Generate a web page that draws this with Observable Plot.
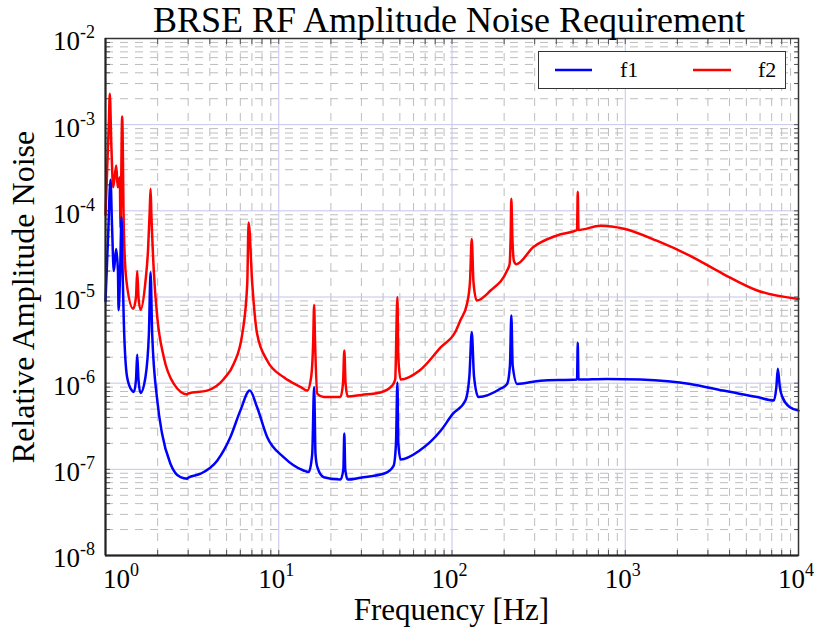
<!DOCTYPE html>
<html>
<head>
<meta charset="utf-8">
<script src="https://cdn.jsdelivr.net/npm/d3@7"></script>
<script src="https://cdn.jsdelivr.net/npm/@observablehq/plot@0.6"></script>
<style>
  html, body { margin: 0; padding: 0; background: #fff; }
  #wrap { position: relative; width: 818px; height: 627px; overflow: hidden; font-family: "Liberation Serif", "DejaVu Serif", serif; color: #000; }
  #chart { position: absolute; left: 0; top: 0; }
  #wrap .lbl, #wrap .lbl span { font-family: "Liberation Serif", "DejaVu Serif", serif !important; }
  .lbl { position: absolute; white-space: nowrap; color: #000; }
  .tick { font-size: 27px; line-height: 27px; }
  .tick .sup { font-size: 18px; vertical-align: 12px; line-height: 0; }
  #legend { position: absolute; left: 538px; top: 51px; width: 246px; height: 36px; border: 1.5px solid #333; background: #fff; }
  #legend svg { position: absolute; left: 0; top: 0; }
  #legend .lbl { font-size: 22px; line-height: 22px; }
</style>
</head>
<body>
<div id="wrap">
  <div id="chart"></div>
  <div id="legend"></div>
</div>
<script>
// ---- data ----
const seriesNames = ["f1", "f2"];
const seriesColors = ["#0000ff", "#ff0000"];

const f1Freq = [1.0, 1.035, 1.069, 1.09, 1.117, 1.152, 1.18, 1.19, 1.215, 1.237, 1.255, 1.275, 1.333, 1.42, 1.457, 1.50, 1.524, 1.55, 1.593, 1.70, 1.78, 1.82, 1.86, 1.99, 2.12, 2.37, 2.71, 2.96, 3.0, 3.54, 4.41, 5.26, 6.0, 6.8, 7.5, 8.57, 10.7, 13.9, 14.9, 15.6, 16.0, 16.3, 16.7, 18.2, 22.7, 23.6, 23.9, 24.2, 25, 29.6, 41, 46, 47.5, 48.4, 49, 50.5, 65, 86, 101, 119.5, 126, 130, 134, 142, 190, 208, 216, 220, 224, 238, 324, 527, 532, 537, 780, 1220, 2370, 3660, 5780, 7210, 7450, 7600, 7800, 8070, 8920, 10000];
const f1Value = [9e-6, 5e-5, 2.3e-4, 7e-5, 2.0e-5, 3.6e-5, 2.0e-5, 7e-6, 2e-5, 8.5e-5, 2e-5, 5.3e-6, 1.17e-6, 8.2e-7, 7.9e-7, 1.1e-6, 2.15e-6, 1.1e-6, 7.7e-7, 1.17e-6, 3.7e-6, 1.94e-5, 3.7e-6, 6.3e-7, 2.6e-7, 1.16e-7, 8.1e-8, 7.8e-8, 8.0e-8, 8.9e-8, 1.26e-7, 2.37e-7, 4.8e-7, 8.2e-7, 5.25e-7, 2.37e-7, 1.38e-7, 9.7e-8, 9.3e-8, 1.5e-7, 9.0e-7, 1.5e-7, 1.06e-7, 8.1e-8, 7.6e-8, 1.0e-7, 2.6e-7, 1.0e-7, 7.6e-8, 8.0e-8, 9.0e-8, 1.1e-7, 2e-7, 1.02e-6, 2e-7, 1.3e-7, 1.65e-7, 2.8e-7, 4.4e-7, 6.3e-7, 1.2e-6, 3.9e-6, 1.2e-6, 6.9e-7, 8.6e-7, 9.8e-7, 1.6e-6, 6.1e-6, 1.6e-6, 9.8e-7, 1.07e-6, 1.1e-6, 2.95e-6, 1.1e-6, 1.12e-6, 1.1e-6, 9.8e-7, 8.2e-7, 6.9e-7, 6.3e-7, 9e-7, 1.47e-6, 9e-7, 6.9e-7, 5.25e-7, 4.8e-7];

const f2Freq = [1.0, 1.045, 1.059, 1.08, 1.108, 1.153, 1.177, 1.21, 1.22, 1.248, 1.276, 1.32, 1.445, 1.50, 1.524, 1.55, 1.593, 1.70, 1.76, 1.80, 1.82, 1.84, 1.90, 1.99, 2.17, 2.48, 2.96, 3.0, 3.86, 4.82, 5.5, 6.16, 6.58, 6.7, 7.03, 7.5, 8.57, 10.7, 13.4, 14.6, 15.4, 15.8, 16.0, 16.2, 16.7, 18.2, 22.7, 23.5, 23.9, 24.3, 25, 30, 38.6, 45, 47, 48.4, 49, 50.5, 65, 86, 105, 112, 122, 127, 130, 133, 139, 167, 208, 215, 218, 220, 223, 228, 235, 295, 405, 527, 532, 537, 718, 980, 1520, 2370, 3660, 5780, 10000];
const f2Value = [9e-5, 1.0e-3, 2.28e-3, 6e-4, 1.88e-4, 3.36e-4, 1.88e-4, 2.45e-4, 6.4e-5, 1.24e-3, 5.9e-5, 1.55e-5, 7.3e-6, 1.0e-5, 2.0e-5, 1.0e-5, 7.1e-6, 1.5e-5, 3.5e-5, 1.0e-4, 1.8e-4, 9e-5, 2.0e-5, 5.83e-6, 2.0e-6, 9.8e-7, 7.4e-7, 7.6e-7, 8.2e-7, 1.12e-6, 1.68e-6, 3.74e-6, 1.43e-5, 7.3e-5, 1.43e-5, 3.74e-6, 1.83e-6, 1.17e-6, 9.0e-7, 8.2e-7, 1.2e-6, 3e-6, 8.1e-6, 3e-6, 7.5e-7, 6.9e-7, 6.9e-7, 1.0e-6, 2.4e-6, 1.0e-6, 7.0e-7, 7.3e-7, 7.8e-7, 9.3e-7, 1.1e-6, 1.0e-5, 2e-6, 1.1e-6, 1.4e-6, 2.6e-6, 4.0e-6, 5.4e-6, 8.3e-6, 1.5e-5, 4.7e-5, 1.5e-5, 9.1e-6, 1.19e-5, 2.03e-5, 2.4e-5, 5e-5, 1.38e-4, 5e-5, 2.6e-5, 2.4e-5, 3.8e-5, 5.2e-5, 6.0e-5, 1.66e-4, 6.0e-5, 6.7e-5, 6.2e-5, 4.5e-5, 3.0e-5, 1.86e-5, 1.19e-5, 9.5e-6];

const xTickExponents = [0, 1, 2, 3, 4];
const yTickExponents = [-8, -7, -6, -5, -4, -3, -2];

const titleText = "BRSE RF Amplitude Noise Requirement";
const xLabel = "Frequency [Hz]";
const yLabel = "Relative Amplitude Noise";

// ---- build ----
const f1 = f1Freq.map((f, i) => ({f, v: f1Value[i]}));
const f2 = f2Freq.map((f, i) => ({f, v: f2Value[i]}));

const xDomain = [10 ** xTickExponents[0], 10 ** xTickExponents[xTickExponents.length - 1]];
const yDomain = [10 ** yTickExponents[0], 10 ** yTickExponents[yTickExponents.length - 1]];
const xAll = d3.scaleLog().domain(xDomain).ticks();
const yAll = d3.scaleLog().domain(yDomain).ticks();
const xMajor = xTickExponents.map(e => 10 ** e);
const yMajor = yTickExponents.map(e => 10 ** e);
const isMajor = v => Math.abs(Math.log10(v) - Math.round(Math.log10(v))) < 1e-9;
const xMinor = xAll.filter(v => !isMajor(v));
const yMinor = yAll.filter(v => !isMajor(v));

const serif = '"Liberation Serif", "DejaVu Serif", serif';
const tickColor = "#555";
const dash = "8,7";
const M = {left: 105, right: 20, top: 38, bottom: 72};
const W = 818, H = 627;

const chart = Plot.plot({
  width: W,
  height: H,
  marginLeft: M.left,
  marginRight: M.right,
  marginTop: M.top,
  marginBottom: M.bottom,
  style: {background: "#fff", overflow: "visible"},
  x: {type: "log", domain: xDomain, axis: null},
  y: {type: "log", domain: yDomain, axis: null},
  marks: [
    Plot.ruleX(xMinor, {stroke: "#bdbdbd", strokeWidth: 1, strokeDasharray: dash}),
    Plot.ruleY(yMinor, {stroke: "#bdbdbd", strokeWidth: 1, strokeDasharray: dash}),
    Plot.ruleX(xMajor, {stroke: "#c4c4ec", strokeWidth: 1}),
    Plot.ruleY(yMajor, {stroke: "#c4c4ec", strokeWidth: 1}),
    // inward ticks on all sides (labels drawn separately)
    Plot.axisX(xAll, {anchor: "bottom", tickSize: -5, tickFormat: () => "", label: null, stroke: tickColor}),
    Plot.axisX(xAll, {anchor: "top", tickSize: -5, tickFormat: () => "", label: null, stroke: tickColor}),
    Plot.axisY(yAll, {anchor: "left", tickSize: -5, tickFormat: () => "", label: null, stroke: tickColor}),
    Plot.axisY(yAll, {anchor: "right", tickSize: -5, tickFormat: () => "", label: null, stroke: tickColor}),
    Plot.line(f2, {x: "f", y: "v", stroke: seriesColors[1], strokeWidth: 2.5, curve: "monotone-x"}),
    Plot.line(f1, {x: "f", y: "v", stroke: seriesColors[0], strokeWidth: 2.5, curve: "monotone-x"}),
    Plot.frame({stroke: "#333", strokeWidth: 1.5}),
    Plot.ruleX([xDomain[0]], {stroke: "#222", strokeWidth: 2}),
    Plot.ruleY([yDomain[0]], {stroke: "#222", strokeWidth: 2})
  ]
});
document.getElementById("chart").appendChild(chart);

// ---- text as HTML, positioned through Plot's scales ----
const wrap = document.getElementById("wrap");
const sx = chart.scale("x");
const sy = chart.scale("y");
function addLabel(cls, html, style, parent) {
  const d = document.createElement("div");
  d.className = "lbl " + cls;
  d.innerHTML = html;
  Object.assign(d.style, style);
  d.style.fontFamily = serif;
  (parent || wrap).appendChild(d);
  return d;
}
const t = addLabel("", "", {left: "100px", width: "698px", top: "0px", textAlign: "center", fontSize: "36px", lineHeight: "40px"});
t.textContent = titleText;
const asc = 22.6; // baseline offset in a 27px line box
const xBase = H - M.bottom + 34;
for (const e of xTickExponents) {
  const cx = sx.apply(10 ** e) + (e === xTickExponents[0] ? 16 : -2);
  addLabel("tick", `10<span class="sup">${e}</span>`, {left: (cx - 40) + "px", width: "80px", textAlign: "center", top: (xBase - asc) + "px"});
}
for (const e of yTickExponents) {
  const cy = sy.apply(10 ** e);
  addLabel("tick", `10<span class="sup">-${Math.abs(e)}</span>`, {left: "0px", width: "95px", textAlign: "right", top: (cy + 13 - asc) + "px"});
}
const xl = addLabel("", "", {left: M.left + "px", width: (W - M.left - M.right) + "px", top: "594px", textAlign: "center", fontSize: "31px", lineHeight: "31px"});
xl.textContent = xLabel;
const yc = (sy.apply(yDomain[0]) + sy.apply(yDomain[1])) / 2;
const yl = addLabel("", "", {left: (23 - 250) + "px", width: "500px", top: (yc - 16) + "px", height: "32px", textAlign: "center", fontSize: "32px", lineHeight: "32px", transform: "rotate(-90deg)", transformOrigin: "50% 50%"});
yl.textContent = yLabel;

// legend
const legend = document.getElementById("legend");
const lg = d3.select(legend).append("svg").attr("width", 246).attr("height", 36);
const legendItems = [
  {name: seriesNames[0], color: seriesColors[0], x0: 16, x1: 53, tx: 81},
  {name: seriesNames[1], color: seriesColors[1], x0: 154, x1: 192, tx: 219}
];
for (const it of legendItems) {
  lg.append("line").attr("x1", it.x0).attr("x2", it.x1).attr("y1", 18).attr("y2", 18)
    .attr("stroke", it.color).attr("stroke-width", 2.5);
  const s = addLabel("", "", {left: it.tx + "px", top: "7px"}, legend);
  s.textContent = it.name;
}
</script>
</body>
</html>
